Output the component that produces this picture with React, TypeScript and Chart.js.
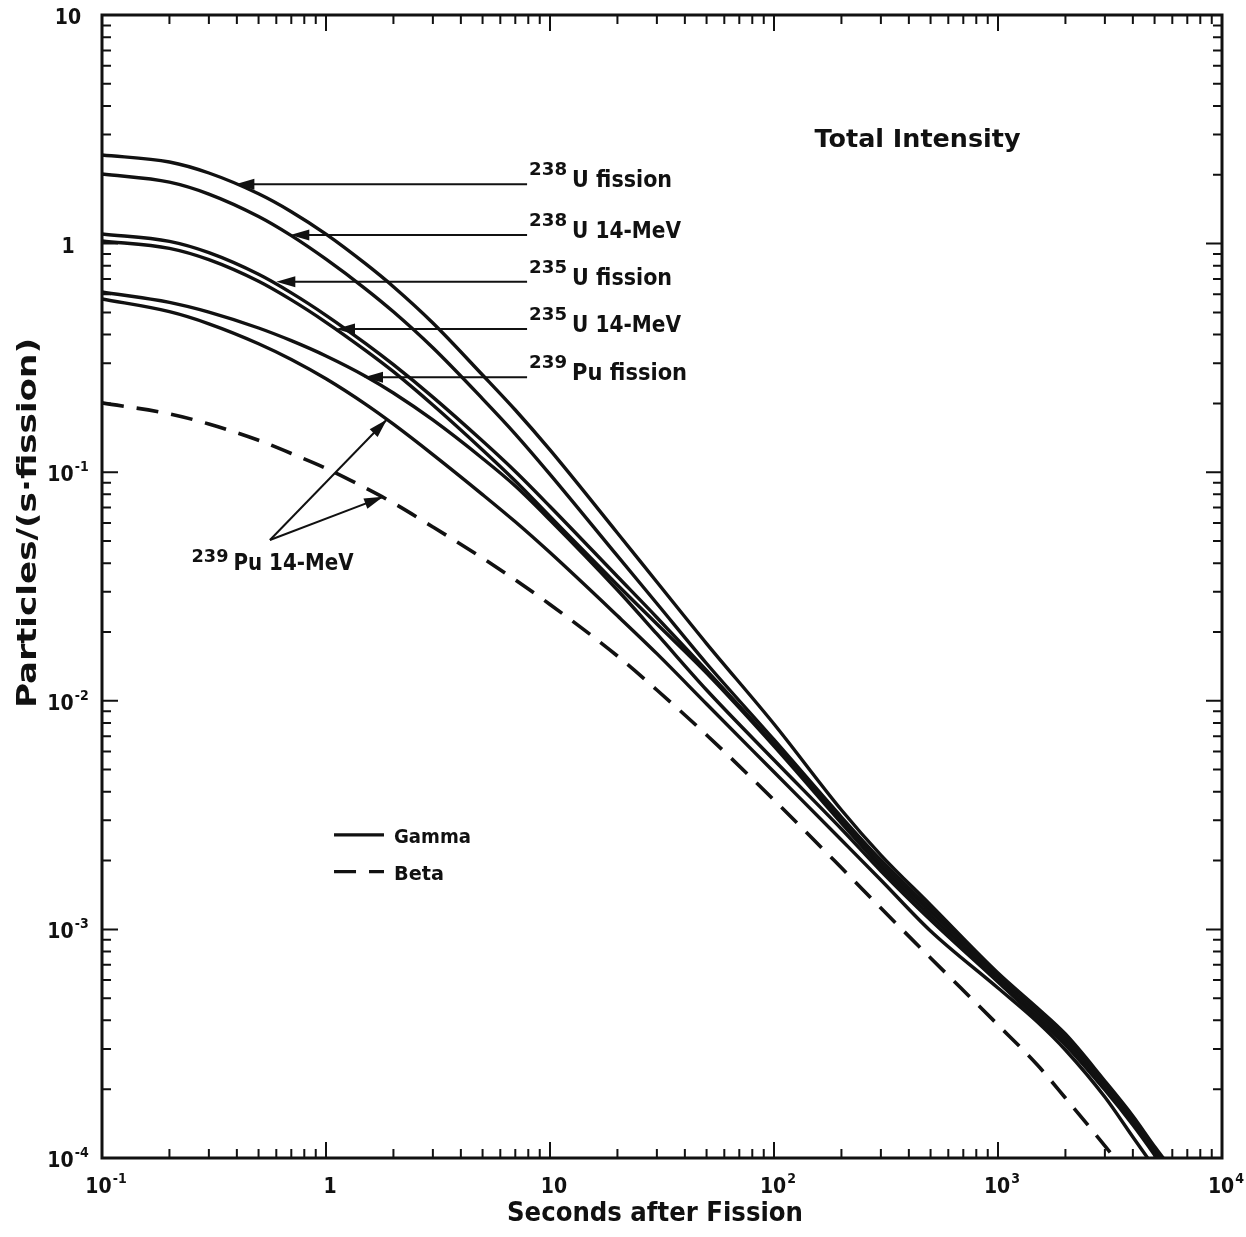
import React, { useEffect, useRef } from "react";
import { Chart, registerables } from "chart.js";

Chart.register(...registerables);

// ---- data ----
const TIME_S = [0.1, 0.2, 0.3, 0.5, 0.7, 1, 1.5, 2, 3, 5, 7, 10, 20, 30, 50, 100, 200, 300, 500, 1000, 1500, 2000, 3000, 4000, 5000, 5600];

const U238_FISSION = [2.441, 2.275, 2.036, 1.651, 1.379, 1.1, 0.8167, 0.6477, 0.4495, 0.2662, 0.1871, 0.1251, 0.0542, 0.03308, 0.0178, 0.007916, 0.003329, 0.002115, 0.001279, 6.445e-4, 4.53e-4, 3.486e-4, 2.172e-4, 1.527e-4, 1.123e-4, 9.7e-5];
const U238_14MEV = [2.016, 1.856, 1.646, 1.313, 1.083, 0.8545, 0.6343, 0.5031, 0.3501, 0.2094, 0.1469, 0.0979, 0.04303, 0.02665, 0.01456, 0.006758, 0.003102, 0.002011, 0.001229, 6.318e-4, 4.395e-4, 3.383e-4, 2.107e-4, 1.481e-4, 1.089e-4, 9.41e-5];
const U235_FISSION = [1.102, 1.022, 0.9124, 0.7338, 0.6086, 0.4857, 0.366, 0.2953, 0.213, 0.1368, 0.1007, 0.07079, 0.03497, 0.02315, 0.01357, 0.006471, 0.00301, 0.001932, 0.001192, 6.19e-4, 4.264e-4, 3.282e-4, 2.065e-4, 1.452e-4, 1.068e-4, 9.22e-5];
const U235_14MEV = [1.027, 0.9528, 0.8503, 0.684, 0.5671, 0.4526, 0.3411, 0.2752, 0.1967, 0.1251, 0.09152, 0.064, 0.0321, 0.02167, 0.01323, 0.006341, 0.00292, 0.001874, 0.001145, 6.067e-4, 4.18e-4, 3.216e-4, 2.024e-4, 1.423e-4, 1.051e-4, 9.04e-5];
const PU239_FISSION = [0.6142, 0.5531, 0.5015, 0.4273, 0.3761, 0.3224, 0.263, 0.222, 0.1692, 0.1148, 0.087, 0.06178, 0.03052, 0.0196, 0.01115, 0.005508, 0.002749, 0.001801, 0.001099, 5.886e-4, 4.055e-4, 3.121e-4, 1.983e-4, 1.394e-4, 1.031e-4, 8.77e-5];
const PU239_14MEV = [0.5723, 0.5036, 0.4459, 0.3649, 0.3112, 0.2562, 0.1985, 0.1622, 0.1194, 0.0798, 0.06067, 0.04449, 0.02354, 0.01608, 0.009683, 0.00488, 0.00246, 0.001645, 9.84e-4, 5.541e-4, 3.935e-4, 2.968e-4, 1.848e-4, 1.235e-4, 9.04e-5, 7.62e-5];
const PU239_14MEV_BETA = [0.201, 0.18, 0.1625, 0.138, 0.1207, 0.104, 0.0853, 0.0733, 0.0576, 0.0421, 0.0338, 0.0264, 0.0157, 0.01115, 0.00709, 0.00368, 0.00186, 0.00124, 7.5e-4, 3.82e-4, 2.55e-4, 1.83e-4, 1.13e-4, 7.9e-5, null, null];

const X_TICKS = [0.1, 1, 10, 100, 1000, 10000];
const X_TICK_LABELS: [string, string][] = [["10", "-1"], ["1", ""], ["10", ""], ["10", "2"], ["10", "3"], ["10", "4"]];
const Y_TICKS = [10, 1, 0.1, 0.01, 0.001, 0.0001];
const Y_TICK_LABELS: [string, string][] = [["10", ""], ["1", ""], ["10", "-1"], ["10", "-2"], ["10", "-3"], ["10", "-4"]];

const X_TITLE = "Seconds after Fission";
const Y_TITLE = "Particles/(s\u00b7fission)";
const PANEL_TITLE = "Total Intensity";

// annotation anchors in data coordinates
const CURVE_LABELS = [
  { mass: "238", name: "U fission", width: 100, tipX: 0.394, tipY: 1.82 },
  { mass: "238", name: "U 14-MeV", width: 109, tipX: 0.693, tipY: 1.09 },
  { mass: "235", name: "U fission", width: 100, tipX: 0.6, tipY: 0.681 },
  { mass: "235", name: "U 14-MeV", width: 109, tipX: 1.108, tipY: 0.423 },
  { mass: "239", name: "Pu fission", width: 115, tipX: 1.478, tipY: 0.26 },
];
const LEADER_END_X = 7.9;
const PU14_LABEL = { mass: "239", name: "Pu 14-MeV", width: 120, x: 0.251, y: 0.0374, apexX: 0.562, apexY: 0.0505 };
const PU14_TIPS: [number, number][] = [[1.87, 0.17], [1.8, 0.078]];
const PANEL_TITLE_POS = { x: 151.7, y: 2.65 };
const LEGEND_ITEMS = [
  { label: "Gamma", width: 77, dashed: false, x0: 1.086, x1: 1.815, y: 2.59e-3 },
  { label: "Beta", width: 50, dashed: true, x0: 1.086, x1: 1.815, y: 1.79e-3 },
];

const INK = "#111";
const FONT = '"DejaVu Sans", "Liberation Sans", sans-serif';
const DASH = [22, 13];

function fitText(ctx: CanvasRenderingContext2D, text: string, x: number, y: number, size: number, width: number | null, align: CanvasTextAlign, weight = "bold") {
  ctx.font = `${weight} ${size}px ${FONT}`;
  const w = ctx.measureText(text).width;
  const s = width ? width / w : 1;
  ctx.save();
  ctx.translate(x, y);
  ctx.scale(s, 1);
  ctx.textAlign = align;
  ctx.textBaseline = "alphabetic";
  ctx.fillText(text, 0, 0);
  ctx.restore();
}

function powerWidth(ctx: CanvasRenderingContext2D, base: string, exp: string) {
  ctx.font = `bold 21px ${FONT}`;
  const wb = ctx.measureText(base).width * 0.9;
  ctx.font = `bold 14px ${FONT}`;
  const we = exp ? ctx.measureText(exp).width * 0.9 + 1 : 0;
  return { wb, we };
}

function drawPower(ctx: CanvasRenderingContext2D, base: string, exp: string, left: number, baseline: number) {
  const { wb } = powerWidth(ctx, base, exp);
  ctx.save();
  ctx.textAlign = "left";
  ctx.textBaseline = "alphabetic";
  ctx.translate(left, baseline);
  ctx.scale(0.9, 1);
  ctx.font = `bold 21px ${FONT}`;
  ctx.fillText(base, 0, 0);
  if (exp) {
    ctx.font = `bold 14px ${FONT}`;
    ctx.fillText(exp, (wb + 1) / 0.9, -10);
  }
  ctx.restore();
}

function arrowHead(ctx: CanvasRenderingContext2D, fromX: number, fromY: number, tipX: number, tipY: number, len = 19, half = 5.5) {
  const ang = Math.atan2(tipY - fromY, tipX - fromX);
  const bx = tipX - Math.cos(ang) * len;
  const by = tipY - Math.sin(ang) * len;
  const nx = -Math.sin(ang) * half;
  const ny = Math.cos(ang) * half;
  ctx.beginPath();
  ctx.moveTo(tipX, tipY);
  ctx.lineTo(bx + nx, by + ny);
  ctx.lineTo(bx - nx, by - ny);
  ctx.closePath();
  ctx.fill();
}

const overlay = {
  id: "overlay",
  afterDraw(chart: any) {
    const ctx: CanvasRenderingContext2D = chart.ctx;
    const xs = chart.scales.x;
    const ys = chart.scales.y;
    const a = chart.chartArea;
    const X = (v: number) => xs.getPixelForValue(v);
    const Y = (v: number) => ys.getPixelForValue(v);
    ctx.save();
    ctx.strokeStyle = INK;
    ctx.fillStyle = INK;

    // frame
    ctx.lineWidth = 3;
    ctx.strokeRect(a.left, a.top, a.right - a.left, a.bottom - a.top);

    // ticks (inward)
    ctx.lineWidth = 2;
    ctx.beginPath();
    for (let d = -1; d <= 3; d++) {
      for (let m = 1; m <= 9; m++) {
        const px = X(m * Math.pow(10, d));
        const len = m === 1 ? 16 : 9;
        ctx.moveTo(px, a.bottom);
        ctx.lineTo(px, a.bottom - len);
        ctx.moveTo(px, a.top);
        ctx.lineTo(px, a.top + len);
      }
    }
    for (let d = -4; d <= 0; d++) {
      for (let m = 1; m <= 9; m++) {
        const py = Y(m * Math.pow(10, d));
        const len = m === 1 ? 16 : 9;
        ctx.moveTo(a.left, py);
        ctx.lineTo(a.left + len, py);
        ctx.moveTo(a.right, py);
        ctx.lineTo(a.right - len, py);
      }
    }
    ctx.stroke();

    // tick labels
    X_TICKS.forEach((v, i) => {
      const [b, e] = X_TICK_LABELS[i];
      const { wb, we } = powerWidth(ctx, b, e);
      const cx = X(v) + 4;
      drawPower(ctx, b, e, cx - (wb + we) / 2, a.bottom + 35);
    });
    Y_TICKS.forEach((v, i) => {
      const [b, e] = Y_TICK_LABELS[i];
      const { wb, we } = powerWidth(ctx, b, e);
      const cx = a.left - 34;
      drawPower(ctx, b, e, cx - (wb + we) / 2, Y(v) + 9);
    });

    // axis titles
    fitText(ctx, X_TITLE, a.left + 553, a.bottom + 63, 27, 296, "center");
    ctx.save();
    ctx.translate(a.left - 66, a.top + 508);
    ctx.rotate(-Math.PI / 2);
    fitText(ctx, Y_TITLE, 0, 0, 27, 370, "center");
    ctx.restore();

    // panel title
    fitText(ctx, PANEL_TITLE, X(PANEL_TITLE_POS.x), Y(PANEL_TITLE_POS.y), 25, 206, "left");

    // curve labels with leaders
    const endPx = X(LEADER_END_X);
    CURVE_LABELS.forEach((l) => {
      const tx = X(l.tipX);
      const ty = Y(l.tipY);
      ctx.lineWidth = 2;
      ctx.beginPath();
      ctx.moveTo(tx + 10, ty);
      ctx.lineTo(endPx, ty);
      ctx.stroke();
      arrowHead(ctx, endPx, ty, tx, ty);
      fitText(ctx, l.mass, endPx + 2, ty - 9, 17, 38, "left");
      fitText(ctx, l.name, endPx + 45, ty + 3, 23, l.width, "left");
    });

    // 239Pu 14-MeV label with two arrows
    const ax = X(PU14_LABEL.apexX);
    const ay = Y(PU14_LABEL.apexY);
    PU14_TIPS.forEach(([vx, vy]) => {
      const tx = X(vx);
      const ty = Y(vy);
      ctx.lineWidth = 2;
      ctx.beginPath();
      ctx.moveTo(ax, ay);
      ctx.lineTo(tx, ty);
      ctx.stroke();
      arrowHead(ctx, ax, ay, tx, ty);
    });
    const lx = X(PU14_LABEL.x);
    const ly = Y(PU14_LABEL.y);
    fitText(ctx, PU14_LABEL.mass, lx, ly - 8, 17, 37, "left");
    fitText(ctx, PU14_LABEL.name, lx + 42, ly, 23, PU14_LABEL.width, "left");

    // legend
    LEGEND_ITEMS.forEach((it) => {
      const x0 = X(it.x0);
      const x1 = X(it.x1);
      const py = Y(it.y);
      ctx.lineWidth = 3.4;
      ctx.setLineDash(it.dashed ? DASH : []);
      ctx.beginPath();
      ctx.moveTo(x0, py);
      ctx.lineTo(x1, py);
      ctx.stroke();
      ctx.setLineDash([]);
      fitText(ctx, it.label, x1 + 10, py + 8, 20, it.width, "left");
    });

    ctx.restore();
  },
};

function series(label: string, values: (number | null)[], dashed: boolean) {
  return {
    label,
    data: TIME_S.map((t, i) => ({ x: t, y: values[i] })),
    borderColor: INK,
    backgroundColor: INK,
    borderWidth: dashed ? 3.6 : 3.4,
    borderDash: dashed ? DASH : [],
    borderCapStyle: "butt" as const,
    pointRadius: 0,
    fill: false,
    cubicInterpolationMode: "monotone" as const,
    spanGaps: false,
  };
}

export default function App() {
  const ref = useRef<HTMLCanvasElement | null>(null);
  useEffect(() => {
    if (!ref.current) return;
    const chart = new Chart(ref.current, {
      type: "line",
      data: {
        datasets: [
          series("238U fission", U238_FISSION, false),
          series("238U 14-MeV", U238_14MEV, false),
          series("235U fission", U235_FISSION, false),
          series("235U 14-MeV", U235_14MEV, false),
          series("239Pu fission", PU239_FISSION, false),
          series("239Pu 14-MeV", PU239_14MEV, false),
          series("239Pu 14-MeV beta", PU239_14MEV_BETA, true),
        ],
      },
      options: {
        animation: false,
        responsive: false,
        devicePixelRatio: 1,
        layout: { padding: { left: 102, top: 15, right: 24, bottom: 79 } },
        plugins: { legend: { display: false }, tooltip: { enabled: false }, title: { display: false } },
        scales: {
          x: { type: "logarithmic", min: 0.1, max: 10000, display: false },
          y: { type: "logarithmic", min: 0.0001, max: 10, display: false },
        },
      },
      plugins: [overlay],
    } as any);
    return () => chart.destroy();
  }, []);
  return (
    <div style={{ position: "absolute", left: 0, top: 0, width: 1246, height: 1237, background: "#fff" }}>
      <canvas ref={ref} width={1246} height={1237} style={{ display: "block", width: 1246, height: 1237 }} />
    </div>
  );
}
